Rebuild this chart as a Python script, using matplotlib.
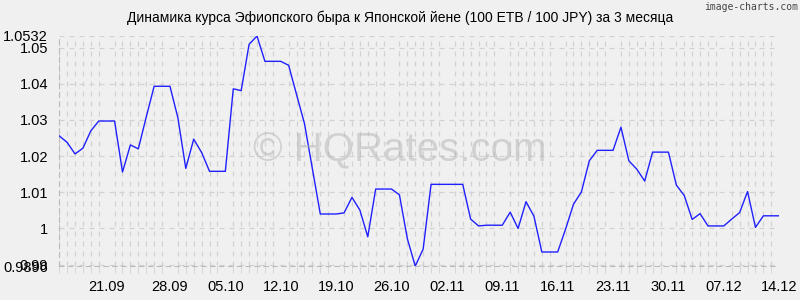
import numpy as np
from matplotlib import pyplot as plt

# daily rate, 100 ETB / 100 JPY
rates = [1.0256, 1.0238, 1.0206, 1.0222, 1.0270, 1.0297, 1.0297, 1.0297, 1.0156, 1.0231,
         1.0220, 1.0308, 1.0393, 1.0393, 1.0393, 1.0306, 1.0166, 1.0247, 1.0210, 1.0158,
         1.0158, 1.0158, 1.0386, 1.0381, 1.0509, 1.0532, 1.0462, 1.0462, 1.0462, 1.0451,
         1.0370, 1.0290, 1.0165, 1.0040, 1.0040, 1.0040, 1.0043, 1.0086, 1.0051, 0.9977,
         1.0109, 1.0109, 1.0109, 1.0093, 0.9972, 0.9896, 0.9943, 1.0122, 1.0122, 1.0122,
         1.0122, 1.0122, 1.0026, 1.0007, 1.0009, 1.0009, 1.0009, 1.0045, 1.0000, 1.0074,
         1.0034, 0.9935, 0.9935, 0.9935, 0.9998, 1.0067, 1.0101, 1.0187, 1.0216, 1.0216,
         1.0216, 1.0280, 1.0187, 1.0164, 1.0131, 1.0211, 1.0211, 1.0211, 1.0120, 1.0091,
         1.0025, 1.0041, 1.0007, 1.0007, 1.0007, 1.0026, 1.0044, 1.0102, 1.0003, 1.0035,
         1.0035, 1.0035]
dateIdx = [6, 14, 21, 28, 35, 42, 49, 56, 63, 70, 77, 84, 91]
dateLabels = ['21.09', '28.09', '05.10', '12.10', '19.10', '26.10', '02.11',
              '09.11', '16.11', '23.11', '30.11', '07.12', '14.12']
yTicks = [0.9896, 0.99, 1.0, 1.01, 1.02, 1.03, 1.04, 1.05, 1.0532]
yLabels = ['0.9896', '0.99', '1', '1.01', '1.02', '1.03', '1.04', '1.05', '1.0532']
title = 'Динамика курса Эфиопского быра к Японской йене (100 ETB / 100 JPY) за 3 месяца'

plt.rcParams['font.family'] = ['Liberation Sans', 'DejaVu Sans']
bg = '#f0f0f0'
gridCol = '#d2d2d2'

fig = plt.figure(figsize=(8, 3), dpi=100, facecolor=bg)
ax = fig.add_axes([0.074, 0.113, 0.9, 0.767], facecolor=bg)

x = np.arange(len(rates))
ax.plot(x, rates, color='#2020ff', linewidth=1.0, zorder=3)

ax.set_xlim(0, len(rates) - 1)
ax.set_ylim(min(rates), max(rates))

ax.set_yticks(yTicks)
ax.set_yticklabels(yLabels, fontsize=10.5)
ax.set_xticks(dateIdx)
ax.set_xticklabels(dateLabels, fontsize=10.5)
ax.set_xticks(x, minor=True)

ax.grid(True, which='major', axis='y', color=gridCol, linestyle=(0, (4, 4)), linewidth=0.9)
ax.grid(True, which='minor', axis='x', color=gridCol, linestyle=(0, (4, 4)), linewidth=0.9)
ax.tick_params(axis='y', length=0, pad=8)
ax.tick_params(axis='x', which='major', length=0, pad=10)
ax.tick_params(axis='x', which='minor', length=5, color=gridCol, direction='out')

for side in ['top', 'right']:
    ax.spines[side].set_visible(False)
for side in ['left', 'bottom']:
    ax.spines[side].set_color('#bbbbbb')
    ax.spines[side].set_linestyle((0, (4, 4)))

fig.text(0.5, 0.94, title, ha='center', va='center', fontsize=10)
fig.text(0.998, 0.977, 'image-charts.com', ha='right', va='center', fontsize=7,
         color='#444444', family='DejaVu Sans Mono')
fig.text(0.5, 0.5, '© HQRates.com', ha='center', va='center', fontsize=29,
         color='#b4b4b4', alpha=0.5, zorder=5)

plt.savefig('out.png', dpi=100, facecolor=bg)
